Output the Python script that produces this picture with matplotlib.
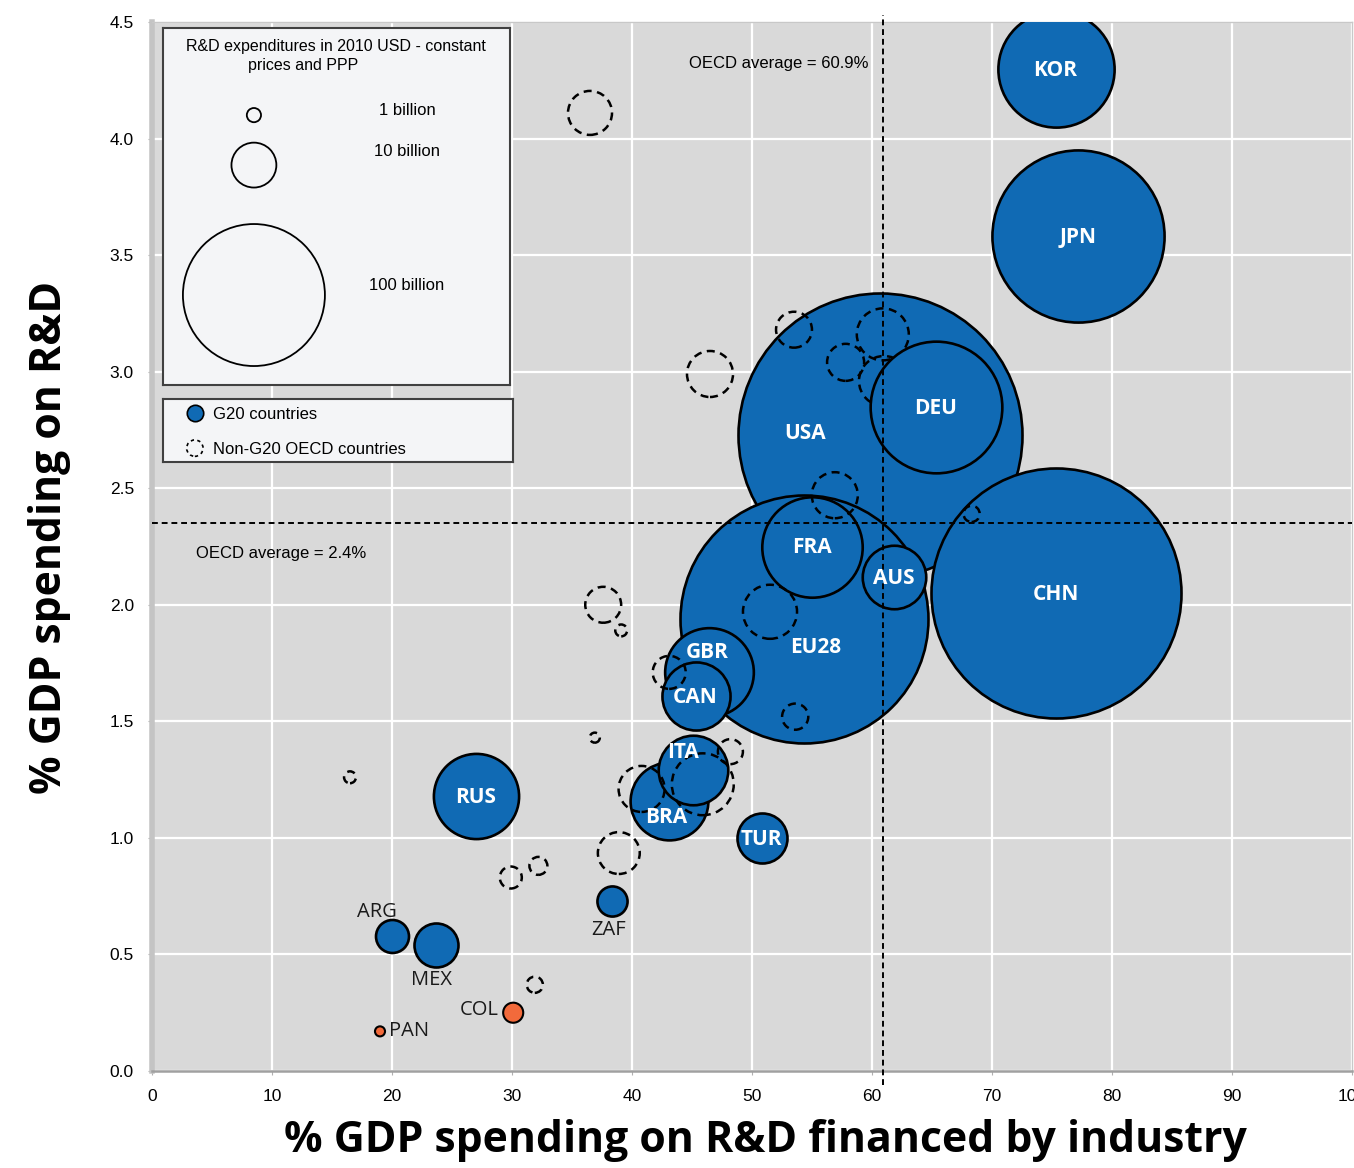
import numpy as np
import matplotlib
matplotlib.use("Agg")
import matplotlib.pyplot as plt

# G20 countries (ordered from largest to smallest R&D spending)
g20_names = ["USA", "CHN", "EU28", "JPN", "DEU", "KOR", "FRA", "GBR", "RUS",
             "BRA", "ITA", "CAN", "AUS", "TUR", "MEX", "ARG", "ZAF"]
g20_industry = [60.7, 75.3, 54.3, 77.2, 65.3, 75.3, 55.0, 46.4, 27.0,
                43.1, 45.1, 45.3, 61.8, 50.8, 23.7, 20.0, 38.3]
g20_rd = [2.73, 2.05, 1.94, 3.58, 2.85, 4.30, 2.25, 1.71, 1.18,
          1.16, 1.29, 1.61, 2.12, 1.00, 0.54, 0.58, 0.73]
g20_spend = [400, 310, 305, 147, 86, 67, 50, 39, 36,
             30, 24, 23, 20, 12.4, 9.6, 5.4, 4.5]

# non-G20 OECD countries (unlabelled)
oecd_industry = [36.5, 46.5, 53.5, 57.8, 60.9, 56.9, 68.3, 51.5, 53.6, 37.6, 39.1,
                 43.1, 36.9, 16.5, 48.2, 45.9, 40.8, 38.9, 29.9, 32.2, 31.9]
oecd_rd = [4.11, 2.99, 3.18, 3.04, 3.16, 2.47, 2.39, 1.97, 1.52, 2.00, 1.89,
           1.71, 1.43, 1.26, 1.37, 1.23, 1.21, 0.935, 0.83, 0.88, 0.37]
oecd_spend = [9.6, 10.5, 6.4, 6.8, 13.4, 10.5, 1.3, 14.5, 3.4, 6.4, 0.7,
              5.4, 0.5, 0.7, 3.1, 19, 10.5, 8.7, 2.4, 1.6, 1.3]
# one OECD bubble hidden behind DEU
hidden_industry = [61.0]
hidden_rd = [2.96]
hidden_spend = [12.4]

# other countries (orange)
other_names = ["COL", "PAN"]
other_industry = [30.1, 19.0]
other_rd = [0.25, 0.17]
other_spend = [2.0, 0.5]

oecd_avg_industry = 60.9
oecd_avg_rd = 2.35

legend_values = [1, 10, 100]
legend_labels = ["1 billion", "10 billion", "100 billion"]

BLUE = "#106ab4"
ORANGE = "#f26a3b"
DPI = 100


def bubble_size(v):
    # area proportional to spending
    r_px = 7.1 * np.sqrt(np.asarray(v, dtype=float))
    return (2 * r_px * 72 / DPI) ** 2


small_font = ["Liberation Sans Narrow", "Liberation Sans", "DejaVu Sans"]

fig = plt.figure(figsize=(13.54, 11.68), dpi=DPI)
ax = fig.add_axes([152 / 1354, 97 / 1168, 1200 / 1354, 1049 / 1168])
ax.set_facecolor("#d9d9d9")
ax.set_xlim(0, 100)
ax.set_ylim(0, 4.5)
ax.set_xticks(np.arange(0, 101, 10))
ax.set_yticks(np.arange(0, 4.51, 0.5))
ax.set_yticklabels([f"{t:.1f}" for t in np.arange(0, 4.51, 0.5)])
ax.grid(True, color="white", lw=1.6)
ax.set_axisbelow(True)
for s in ["top", "right"]:
    ax.spines[s].set_color("#c8c8c8")
    ax.spines[s].set_linewidth(1.0)
ax.spines["left"].set_color("#c4c4c4")
ax.spines["left"].set_linewidth(4)
ax.spines["bottom"].set_color("#a0a0a0")
ax.spines["bottom"].set_linewidth(1.8)
ax.tick_params(length=3, color="#b0b0b0", labelsize=12.5, pad=10)
for lab in ax.get_xticklabels() + ax.get_yticklabels():
    lab.set_family(small_font)

# G20 bubbles
labels_offset = {"USA": (-54, 2), "EU28": (9, -20), "GBR": (-1, 15),
                 "ITA": (-7, 14), "BRA": (-2, -11)}
for i, name in enumerate(g20_names):
    z = 5 if name == "DEU" else 3 + i * 0.01
    ax.scatter(g20_industry[i], g20_rd[i], s=bubble_size(g20_spend[i]),
               color=BLUE, edgecolor="black", linewidth=1.9, zorder=z)
    if name in ["MEX", "ARG", "ZAF"]:
        continue
    dx, dy = labels_offset.get(name, (0, 0))
    ax.annotate(name, (g20_industry[i], g20_rd[i]), xytext=(dx, dy - 1),
                textcoords="offset points", ha="center", va="center",
                color="white", fontsize=15, fontweight="bold",
                family="Open Sans", zorder=7)

# labels outside bubbles
outside_offset = {"ARG": (-11, 17), "MEX": (-3.5, -25), "ZAF": (-2, -21)}
for name, (dx, dy) in outside_offset.items():
    i = g20_names.index(name)
    ax.annotate(name, (g20_industry[i], g20_rd[i]), xytext=(dx, dy),
                textcoords="offset points", ha="center", va="center",
                color="#1a1a1a", fontsize=14.5, family="Open Sans", zorder=7)

# non-G20 OECD bubbles
ax.scatter(oecd_industry, oecd_rd, s=bubble_size(oecd_spend), facecolor="none",
           edgecolor="black", linewidth=1.8, linestyle=(0, (3.2, 2.2)), zorder=4)
ax.scatter(hidden_industry, hidden_rd, s=bubble_size(hidden_spend), facecolor="none",
           edgecolor="black", linewidth=1.8, linestyle=(0, (3.2, 2.2)), zorder=4)

# other countries
ax.scatter(other_industry, other_rd, s=bubble_size(other_spend), color=ORANGE,
           edgecolor="black", linewidth=1.5, zorder=4)
other_offset = {"COL": (-24.5, 2), "PAN": (21, 0.5)}
for i, name in enumerate(other_names):
    ax.annotate(name, (other_industry[i], other_rd[i]), xytext=other_offset[name],
                textcoords="offset points", ha="center", va="center",
                color="#1a1a1a", fontsize=14.5, family="Open Sans", zorder=7)

# OECD averages
ax.axhline(oecd_avg_rd, color="black", lw=1.4, ls=(0, (3, 2)), zorder=6)
ax.plot([oecd_avg_industry] * 2, [-0.06, 4.53], color="black", lw=1.4,
        ls=(0, (3, 2)), zorder=6, clip_on=False)
ax.text(52.25, 4.32, f"OECD average = {oecd_avg_industry}%", ha="center", va="center",
        fontsize=12, family=small_font, zorder=7)
ax.text(10.75, 2.22, "OECD average = 2.4%", ha="center", va="center",
        fontsize=12, family=small_font, zorder=7)

# size legend box
lg = fig.add_axes([163 / 1354, 783 / 1168, 347 / 1354, 357 / 1168])
lg.set_facecolor("#f4f5f7")
lg.set_xlim(0, 1)
lg.set_ylim(0, 1)
lg.set_xticks([])
lg.set_yticks([])
for s in lg.spines.values():
    s.set_color("#404040")
    s.set_linewidth(1.5)
lg.text(0.499, 0.947, "R&D expenditures in 2010 USD - constant", ha="center", va="center",
        fontsize=11.5, family=small_font)
lg.text(0.403, 0.894, "prices and PPP", ha="center", va="center",
        fontsize=11.5, family=small_font)
leg_y = [0.756, 0.616, 0.252]
lg.scatter([0.262] * 3, leg_y, s=bubble_size(legend_values), facecolor="none",
           edgecolor="black", linewidth=1.3, clip_on=False)
for yy, txt in zip([0.768, 0.655, 0.28], legend_labels):
    lg.text(0.703, yy, txt, ha="center", va="center", fontsize=12, family=small_font)

# type legend box
lg2 = fig.add_axes([163 / 1354, 706 / 1168, 350 / 1354, 63 / 1168])
lg2.set_facecolor("#f4f5f7")
lg2.set_xlim(0, 1)
lg2.set_ylim(0, 1)
lg2.set_xticks([])
lg2.set_yticks([])
for s in lg2.spines.values():
    s.set_color("#404040")
    s.set_linewidth(1.5)
lg2.scatter([0.091], [0.78], s=140, color=BLUE, edgecolor="black", linewidth=1.2)
lg2.scatter([0.091], [0.22], s=140, facecolor="none", edgecolor="black",
            linewidth=1.2, linestyle=(0, (2, 2)))
lg2.text(0.143, 0.76, "G20 countries", va="center", fontsize=12, family=small_font)
lg2.text(0.143, 0.2, "Non-G20 OECD countries", va="center", fontsize=12, family=small_font)

# axis titles
fig.text(765 / 1354, (1168 - 1140) / 1168, "% GDP spending on R&D financed by industry",
         ha="center", va="center", fontsize=30.8, fontweight="bold", family="Open Sans")
fig.text(50 / 1354, (1168 - 537) / 1168, "% GDP spending on R&D", rotation=90,
         ha="center", va="center", fontsize=30.8, fontweight="bold", family="Open Sans")

fig.savefig("out.png", dpi=DPI)
